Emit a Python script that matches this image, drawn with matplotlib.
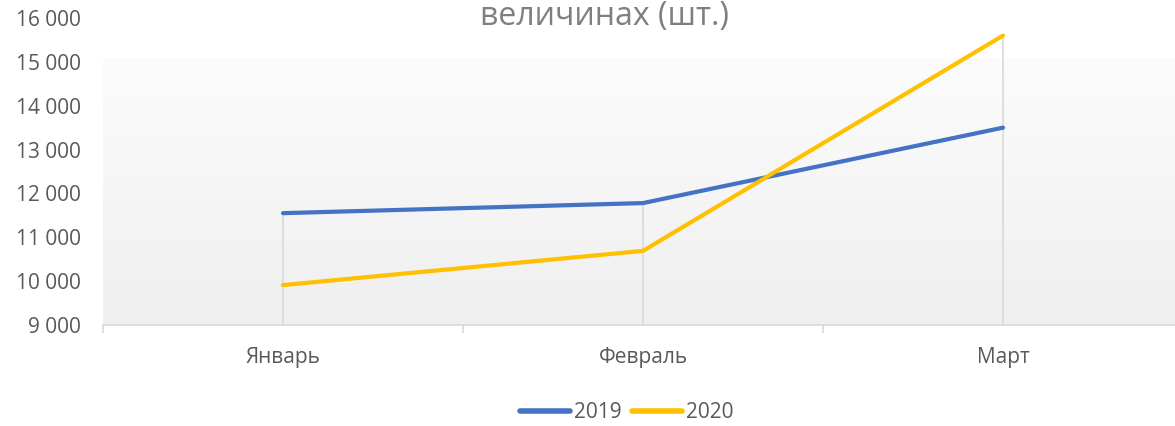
import numpy as np
import matplotlib
matplotlib.use("Agg")
import matplotlib.pyplot as plt

plt.rcParams['font.family'] = ['Open Sans', 'DejaVu Sans']

categories = ["Январь", "Февраль", "Март"]
series_names = ["2019", "2020"]
values_2019 = [11550, 11780, 13500]
values_2020 = [9910, 10690, 15600]
y_ticks = [9000, 10000, 11000, 12000, 13000, 14000, 15000, 16000]
title_visible = "величинах (шт.)"

colors = ["#4472C4", "#FFC000"]
label_color = "#595959"
grid_color = "#D9D9D9"

W, H = 1175, 426
fig = plt.figure(figsize=(W / 100, H / 100), dpi=100)
fig.patch.set_facecolor("white")
ax = fig.add_axes([103 / W, 1 - 325 / H, 1080 / W, 307 / H])
ax.set_facecolor("white")

x = np.arange(len(categories))
ax.set_xlim(-0.5, len(categories) - 0.5)
ax.set_ylim(y_ticks[0], y_ticks[-1])

# gradient background
n = 300
yy = np.linspace(y_ticks[0], y_ticks[-1], n)
cut = 15100
frac = np.clip((yy - y_ticks[0]) / (cut - y_ticks[0]), 0, 1)
lo = np.array([0xEF, 0xEF, 0xEF]) / 255
hi = np.array([0xFC, 0xFC, 0xFC]) / 255
img = lo[None, :] * (1 - frac[:, None]) + hi[None, :] * frac[:, None]
img[yy > cut] = 1.0
img = img[:, None, :]
ax.imshow(img, aspect="auto", origin="lower",
          extent=[-0.5, len(categories) - 0.5, y_ticks[0], y_ticks[-1]],
          zorder=0, interpolation="bilinear")

# drop lines
tops = np.maximum(values_2019, values_2020)
ax.vlines(x, y_ticks[0], tops, color=grid_color, lw=1.2, zorder=1)

ax.plot(x, values_2019, color=colors[0], lw=3, solid_capstyle="round",
        solid_joinstyle="round", label=series_names[0], zorder=3)
ax.plot(x, values_2020, color=colors[1], lw=3, solid_capstyle="round",
        solid_joinstyle="round", label=series_names[1], zorder=3)

for s in ["top", "right", "left"]:
    ax.spines[s].set_visible(False)
ax.spines["bottom"].set_color(grid_color)
ax.spines["bottom"].set_linewidth(1.2)

ax.set_yticks(y_ticks)
ax.set_yticklabels([f"{v:,}".replace(",", " ") for v in y_ticks])
ax.tick_params(axis="y", length=0, pad=16, labelsize=15, labelcolor=label_color)

ax.set_xticks(x)
ax.set_xticklabels(categories)
ax.set_xticks(np.arange(-0.5, len(categories), 1.0), minor=True)
ax.tick_params(axis="x", which="major", length=0, pad=16, labelsize=15,
               labelcolor=label_color)
ax.tick_params(axis="x", which="minor", length=6, width=1.2, color=grid_color)

fig.text(604 / W, 1 - 16 / H, title_visible, ha="center", va="center",
         fontsize=23, color="#7F7F7F")

leg = fig.legend(loc="center", bbox_to_anchor=(627 / W, 1 - 413 / H), ncol=2,
                 frameon=False, fontsize=15, handlelength=2.4,
                 handletextpad=0.2, columnspacing=0.5, labelcolor=label_color)
for line in leg.get_lines():
    line.set_linewidth(4)
    line.set_solid_capstyle("round")

fig.savefig("out.png", dpi=100)
